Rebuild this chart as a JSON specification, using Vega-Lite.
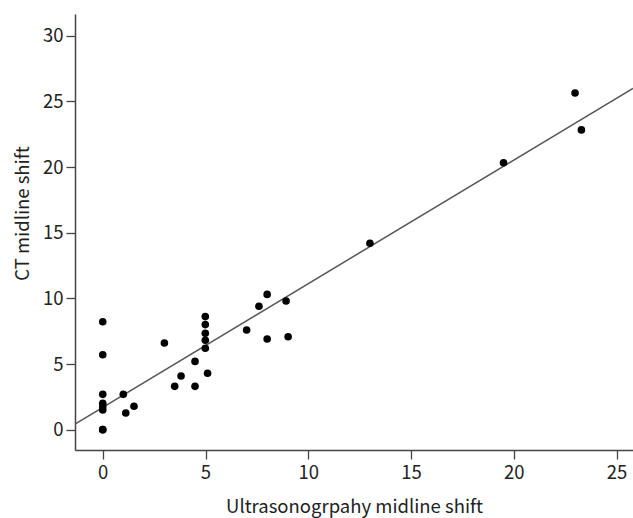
{
  "$schema": "https://vega.github.io/schema/vega-lite/v6.json",
  "width": 558,
  "height": 436,
  "autosize": {"type": "none"},
  "padding": {"left": 75, "top": 14, "right": 0, "bottom": 68},
  "background": "white",
  "config": {
    "view": {"stroke": null},
    "font": "Noto Sans CJK SC",
    "axis": {
      "grid": false,
      "domainColor": "#444",
      "domainWidth": 1.5,
      "tickColor": "#444",
      "tickWidth": 1.3,
      "tickSize": 9,
      "labelFont": "Noto Sans CJK SC",
      "labelFontSize": 18.5,
      "labelColor": "#222",
      "titleFont": "Noto Sans CJK SC",
      "titleFontSize": 18.5,
      "titleFontWeight": "normal",
      "titleColor": "#222"
    }
  },
  "datasets": {
    "points": [
      {"us": 0, "ct": 8.22}, {"us": 0, "ct": 5.71}, {"us": 0, "ct": 2.69}, {"us": 0, "ct": 2.01},
      {"us": 0, "ct": 1.75}, {"us": 0, "ct": 1.5}, {"us": 0, "ct": 0}, {"us": 0, "ct": 0},
      {"us": 1.0, "ct": 2.69}, {"us": 1.12, "ct": 1.27}, {"us": 1.52, "ct": 1.78},
      {"us": 3.0, "ct": 6.6}, {"us": 3.5, "ct": 3.3}, {"us": 3.81, "ct": 4.09},
      {"us": 4.49, "ct": 5.2}, {"us": 4.49, "ct": 3.3},
      {"us": 4.99, "ct": 8.61}, {"us": 4.99, "ct": 8.0}, {"us": 4.99, "ct": 7.34},
      {"us": 4.99, "ct": 6.81}, {"us": 4.99, "ct": 6.2}, {"us": 5.1, "ct": 4.3},
      {"us": 7.0, "ct": 7.59}, {"us": 7.6, "ct": 9.4}, {"us": 8.0, "ct": 10.3},
      {"us": 8.0, "ct": 6.9}, {"us": 8.92, "ct": 9.8}, {"us": 9.02, "ct": 7.08},
      {"us": 13.0, "ct": 14.2}, {"us": 19.5, "ct": 20.33}, {"us": 22.98, "ct": 25.64},
      {"us": 23.29, "ct": 22.83}
    ],
    "fit": [
      {"us": -1.35, "ct": 0.43},
      {"us": 25.8, "ct": 26.0}
    ]
  },
  "layer": [
    {
      "data": {"name": "fit"},
      "mark": {"type": "line", "color": "#555", "strokeWidth": 1.5, "clip": true},
      "encoding": {
        "x": {"field": "us", "type": "quantitative"},
        "y": {"field": "ct", "type": "quantitative"}
      }
    },
    {
      "data": {"name": "points"},
      "mark": {"type": "point", "filled": true, "color": "black", "opacity": 1, "size": 58},
      "encoding": {
        "x": {
          "field": "us", "type": "quantitative",
          "scale": {"domain": [-1.35, 25.8], "nice": false, "zero": false},
          "axis": {"values": [0, 5, 10, 15, 20, 25], "title": "Ultrasonogrpahy midline shift", "titlePadding": 16, "labelPadding": 4}
        },
        "y": {
          "field": "ct", "type": "quantitative",
          "scale": {"domain": [-1.55, 31.66], "nice": false, "zero": false},
          "axis": {"values": [0, 5, 10, 15, 20, 25, 30], "title": "CT midline shift", "titlePadding": 10, "labelPadding": 3, "titleY": 199}
        }
      }
    }
  ]
}
